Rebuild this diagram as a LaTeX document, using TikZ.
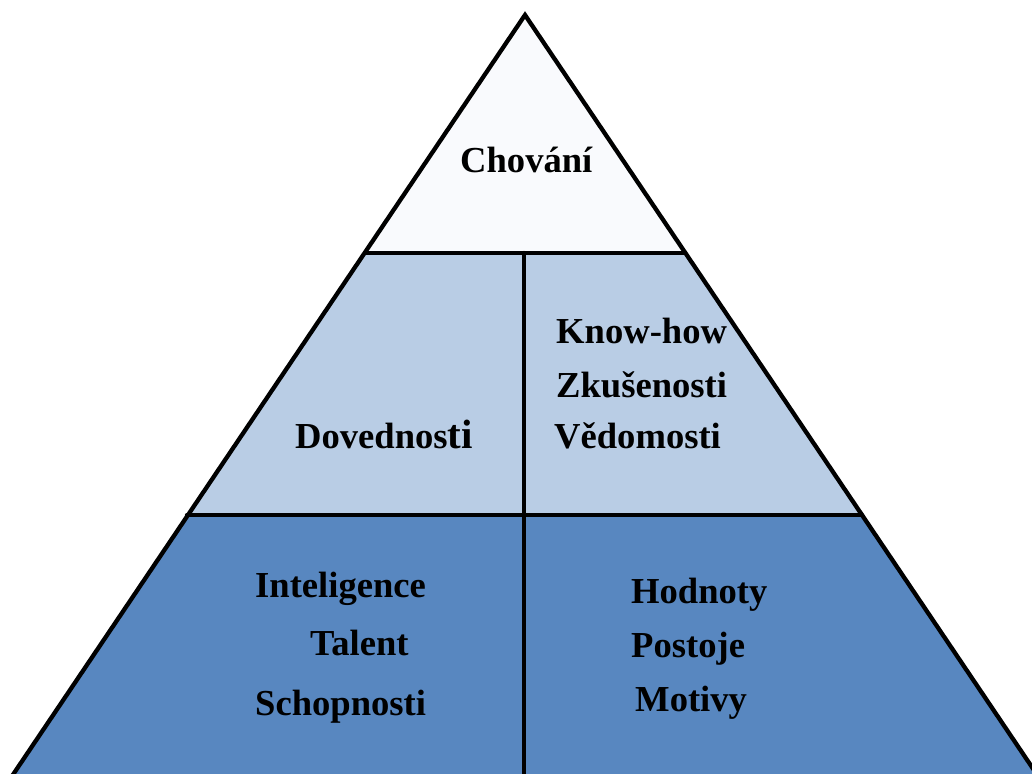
\documentclass[tikz,border=0pt]{standalone}
\usepackage{fontspec}
\setmainfont{Liberation Serif}
\definecolor{topfill}{HTML}{F9FAFD}
\definecolor{midfill}{HTML}{B9CDE5}
\definecolor{botfill}{HTML}{5887C0}
\tikzset{
  edge/.style={line width=4.3pt, black, line cap=round, line join=miter},
  lbl/.style={anchor=base west, inner sep=0pt, font=\bfseries\fontsize{36.6}{40}\selectfont, text=black},
}
\begin{document}
\begin{tikzpicture}[x=1pt,y=-1pt]
\useasboundingbox (0,0) rectangle (1032,773);
\coordinate (apex) at (525,15);
\coordinate (tl) at (365,253);
\coordinate (tr) at (685,253);
\coordinate (ml) at (187,515);
\coordinate (mr) at (862,515);
\coordinate (bl) at (6,785);
\coordinate (br) at (1044,785);
\coordinate (vt) at (524,253);
\coordinate (vb) at (524,785);
\begin{scope}
\clip (0,0) rectangle (1032,773);
\fill[topfill] (apex) -- (tr) -- (tl) -- cycle;
\fill[midfill] (tl) -- (tr) -- (mr) -- (ml) -- cycle;
\fill[botfill] (ml) -- (mr) -- (br) -- (bl) -- cycle;
\draw[edge] (bl) -- (apex) -- (br);
\draw[edge] (tl) -- (tr);
\draw[edge] (ml) -- (mr);
\draw[edge] (vt) -- (vb);
\end{scope}
\node[lbl] (chovani) at (460,172) {Chování};
\node[lbl] (dovednosti) at (295,448) {Dovednos{\fontsize{41}{44}\selectfont ti}};
\node[lbl] (knowhow) at (556,343) {Know-how};
\node[lbl] (zkusenosti) at (556,397) {Zkušenosti};
\node[lbl] (vedomosti) at (554,448) {Vědomosti};
\node[lbl] (inteligence) at (255,597) {Inteligence};
\node[lbl] (talent) at (310,655) {Talent};
\node[lbl] (schopnosti) at (255,715) {Schopnosti};
\node[lbl] (hodnoty) at (631,603) {Hodnoty};
\node[lbl] (postoje) at (631,657) {Postoje};
\node[lbl] (motivy) at (635,711) {Motivy};
\end{tikzpicture}
\end{document}
